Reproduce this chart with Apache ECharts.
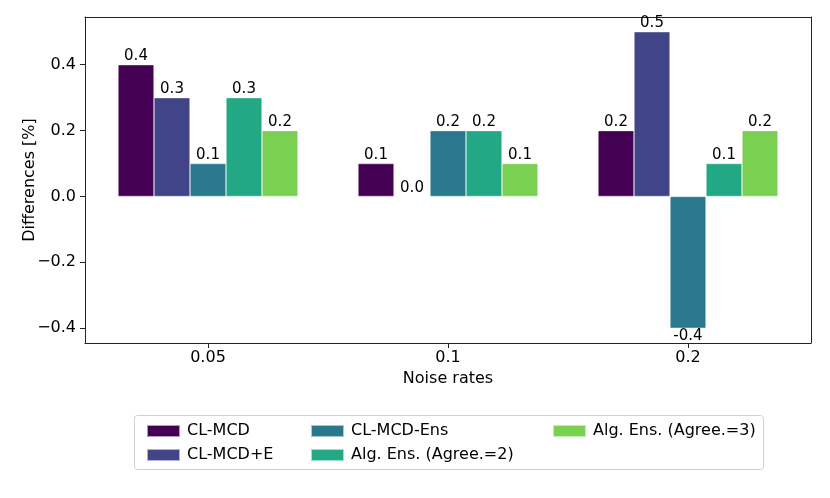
<!DOCTYPE html>
<html><head><meta charset="utf-8">
<script src="https://cdn.jsdelivr.net/npm/echarts@6/dist/echarts.min.js"></script>
<style>html,body{margin:0;padding:0;background:#fff}#c{width:830px;height:498px}</style>
</head><body><div id="c"></div>
<script>
const categories = ['0.05', '0.1', '0.2'];
const seriesNames = ['CL-MCD', 'CL-MCD+E', 'CL-MCD-Ens', 'Alg. Ens. (Agree.=2)', 'Alg. Ens. (Agree.=3)'];
const clMcd = [0.4, 0.1, 0.2];
const clMcdE = [0.3, 0.0, 0.5];
const clMcdEns = [0.1, 0.2, -0.4];
const algEns2 = [0.3, 0.2, 0.1];
const algEns3 = [0.2, 0.1, 0.2];
const yTicks = [-0.4, -0.2, 0.0, 0.2, 0.4];
const colors = ['#440154', '#414487', '#2a788e', '#22a884', '#7ad151'];

const FONT = 'DejaVu Sans';
const allValues = [clMcd, clMcdE, clMcdEns, algEns2, algEns3];
const yMin = -0.445, yMax = 0.545;

const series = allValues.map((vals, i) => ({
  name: seriesNames[i],
  type: 'bar',
  xAxisIndex: 0, yAxisIndex: 0,
  barWidth: 36, barGap: '0%',
  itemStyle: { color: colors[i], borderColor: 'rgba(255,255,255,0.6)', borderWidth: 0.6 },
  label: {
    show: true, position: 'top', distance: 1,
    fontFamily: FONT, fontSize: 15, color: '#000',
    formatter: p => p.value.toFixed(1)
  },
  data: vals.map(v => v < 0 ? { value: v, label: { position: 'bottom', distance: 0 } } : v)
}));

const legendBase = {
  orient: 'vertical', top: 417, itemWidth: 33, itemHeight: 12, itemGap: 6,
  icon: 'rect',
  textStyle: { fontFamily: FONT, fontSize: 16, color: '#000', lineHeight: 18, padding: [0, 0, 0, 2] },
  selectedMode: false
};

const option = {
  animation: false,
  color: colors,
  graphic: [{
    type: 'rect', left: 134, top: 415, z: -1,
    shape: { width: 629, height: 54, r: 3 },
    style: { fill: '#fff', stroke: '#d0d0d0', lineWidth: 1 }
  }],
  legend: [
    Object.assign({}, legendBase, { left: 141, data: [seriesNames[0], seriesNames[1]] }),
    Object.assign({}, legendBase, { left: 305, data: [seriesNames[2], seriesNames[3]] }),
    Object.assign({}, legendBase, { left: 547, data: [seriesNames[4]] })
  ],
  grid: [
    { left: 88, width: 720, top: 17, bottom: 155 },
    { left: 85, right: 19, top: 17, bottom: 155 }
  ],
  xAxis: [
    {
      type: 'category', gridIndex: 0, data: categories, boundaryGap: true,
      axisLine: { show: false, onZero: false },
      axisTick: { show: true, alignWithLabel: true, length: 5, lineStyle: { color: '#222' } },
      axisLabel: { fontFamily: FONT, fontSize: 16, color: '#000', margin: 7 },
      name: 'Noise rates', nameLocation: 'middle', nameGap: 28, nameMoveOverlap: false,
      nameTextStyle: { fontFamily: FONT, fontSize: 16, color: '#000' }
    },
    {
      type: 'value', gridIndex: 1, min: 0, max: 1, position: 'bottom',
      axisLine: { show: true, onZero: false, lineStyle: { color: '#222', width: 1 } },
      axisTick: { show: false }, axisLabel: { show: false }, splitLine: { show: false }
    },
    {
      type: 'value', gridIndex: 1, min: 0, max: 1, position: 'top',
      axisLine: { show: true, onZero: false, lineStyle: { color: '#222', width: 1 } },
      axisTick: { show: false }, axisLabel: { show: false }, splitLine: { show: false }
    }
  ],
  yAxis: [
    {
      type: 'value', gridIndex: 0, min: yMin, max: yMax, show: false, splitLine: { show: false }
    },
    {
      type: 'value', gridIndex: 1, min: yMin, max: yMax, position: 'left',
      axisLine: { show: true, onZero: false, lineStyle: { color: '#222', width: 1 } },
      axisTick: { show: true, length: 5, customValues: yTicks, lineStyle: { color: '#222' } },
      axisLabel: {
        fontFamily: FONT, fontSize: 16, color: '#000', margin: 9, customValues: yTicks,
        formatter: v => v.toFixed(1).replace('-', '\u2212')
      },
      splitLine: { show: false },
      name: 'Differences [%]', nameLocation: 'middle', nameGap: 47, nameMoveOverlap: false,
      nameTextStyle: { fontFamily: FONT, fontSize: 16, color: '#000' }
    },
    {
      type: 'value', gridIndex: 1, min: yMin, max: yMax, position: 'right',
      axisLine: { show: true, onZero: false, lineStyle: { color: '#222', width: 1 } },
      axisTick: { show: false }, axisLabel: { show: false }, splitLine: { show: false }
    }
  ],
  series: series
};

const chart = echarts.init(document.getElementById('c'));
chart.setOption(option);
</script>
</body></html>
